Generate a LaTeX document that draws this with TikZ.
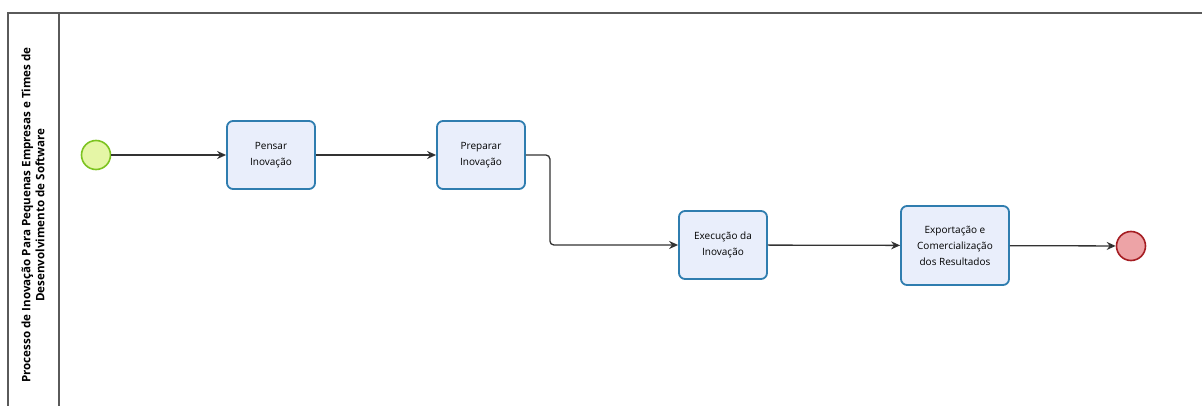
\documentclass[tikz,border=0pt]{standalone}
\usepackage{fontspec}
\setmainfont{Open Sans}
\usepackage{xcolor}
\usetikzlibrary{arrows.meta}

\definecolor{taskline}{HTML}{2F7DAF}
\definecolor{taskfill}{HTML}{E9EEFB}
\definecolor{startline}{HTML}{7CC320}
\definecolor{startfill}{HTML}{E5F6A6}
\definecolor{endline}{HTML}{A51D22}
\definecolor{endfill}{HTML}{EDA3A6}
\definecolor{flowline}{HTML}{333333}
\definecolor{poolline}{HTML}{5A5A5A}

\tikzset{
  task/.style={draw=taskline, fill=taskfill, line width=1.8pt, rounded corners=6pt,
    minimum width=88pt, minimum height=68pt, align=center,
    font=\fontsize{10}{16}\selectfont},
  startev/.style={circle, draw=startline, fill=startfill, line width=1.6pt, minimum size=29pt, inner sep=0pt},
  endev/.style={circle, draw=endline, fill=endfill, line width=1.6pt, minimum size=29pt, inner sep=0pt},
  flow/.style={draw=flowline, line width=1.3pt, -{Stealth[length=9pt,width=8pt]}}
}

\begin{document}
\begin{tikzpicture}[x=1pt, y=-1pt]
        \useasboundingbox (0,0) rectangle (1202,406);

        % pool and lane header
        \draw[poolline, line width=1.5pt] (8,406) -- (8,13) -- (1202,13);
        \draw[poolline, line width=1.5pt] (59,13) -- (59,406);
        \node[rotate=90, align=center, font=\fontsize{11.6}{14}\selectfont\bfseries] (lane) at (33,215)
          {Processo de Inovação Para Pequenas Empresas e Times de\\Desenvolvimento de Software};

        \node[startev] (start) at (96,155) {};
        \node[task] (pensar) at (271,155) {Pensar\\Inovação};
        \node[task] (preparar) at (481,155) {Preparar\\Inovação};
        \node[task] (exec) at (723,245) {Execução da\\Inovação};
        \node[task, minimum width=108pt, minimum height=79pt] (export) at (955,245.5) {Exportação e\\Comercialização\\dos Resultados};
        \node[endev] (fim) at (1131,246) {};

        \path[flow]
        (start) edge (pensar)
        (pensar) edge (preparar)
        (exec) edge (export)
        (export) edge (fim);

        \draw[flow, rounded corners=4pt] (preparar.east) -- ++(24,0) |- (exec.west);

    \end{tikzpicture}
\end{document}
